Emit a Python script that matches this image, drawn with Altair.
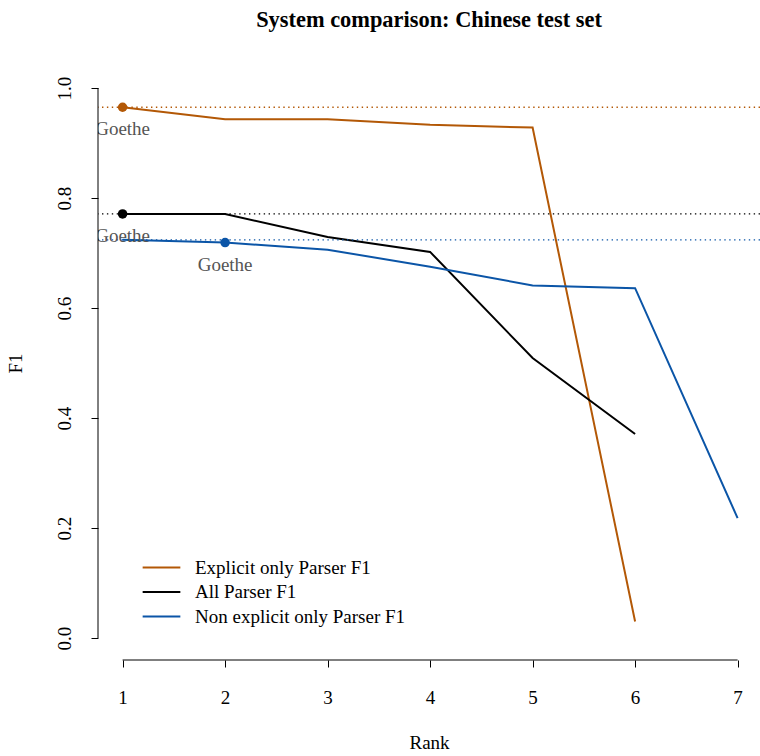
import altair as alt
import pandas as pd

# F1 per rank for each parser variant
ranks_explicit = [1, 2, 3, 4, 5, 6]
f1_explicit = [0.965, 0.943, 0.943, 0.933, 0.928, 0.030]

ranks_all = [1, 2, 3, 4, 5, 6]
f1_all = [0.771, 0.771, 0.729, 0.702, 0.509, 0.371]

ranks_nonexplicit = [1, 2, 3, 4, 5, 6, 7]
f1_nonexplicit = [0.724, 0.719, 0.706, 0.675, 0.641, 0.636, 0.218]

series_names = ["Explicit only Parser F1", "All Parser F1", "Non explicit only Parser F1"]
series_colors = ["#B35806", "#000000", "#0B55A7"]

# Goethe system: rank and F1 in each series
goethe_rank = [1, 1, 2]
goethe_f1 = [0.965, 0.771, 0.719]
goethe_label = ["Goethe", "Goethe", "Goethe"]

# best score per series (dotted reference lines)
best_f1 = [max(f1_explicit), max(f1_all), max(f1_nonexplicit)]

x_ticks = [1, 2, 3, 4, 5, 6, 7]
y_ticks = [0.0, 0.2, 0.4, 0.6, 0.8, 1.0]

rows = []
for name, rs, vs in zip(series_names,
                        [ranks_explicit, ranks_all, ranks_nonexplicit],
                        [f1_explicit, f1_all, f1_nonexplicit]):
    for r, v in zip(rs, vs):
        rows.append({"series": name, "rank": r, "f1": v})
lines_df = pd.DataFrame(rows)

best_df = pd.DataFrame({"series": series_names, "f1": best_f1})
goethe_df = pd.DataFrame({"series": series_names, "rank": goethe_rank,
                          "f1": goethe_f1, "label": goethe_label})
xaxis_df = pd.DataFrame({"rank": [min(x_ticks)], "rank2": [max(x_ticks)]})
yaxis_df = pd.DataFrame({"f1": [min(y_ticks)], "f12": [max(y_ticks)]})

W, H = 662, 594
FONT = "Liberation Serif"
FS = 19

x_scale = alt.Scale(domain=[0.76, 0.76 + W / 102.5], nice=False, zero=False)
y_scale = alt.Scale(domain=[-0.04, 1.04], nice=False, zero=False)
color_scale = alt.Scale(domain=series_names, range=series_colors)

x_axis = alt.Axis(values=x_ticks, domain=False, grid=False, tickSize=7,
                  tickColor="#000", tickWidth=1, labelPadding=21,
                  labelFont=FONT, labelFontSize=FS, labelColor="#000",
                  title="Rank", titleFont=FONT, titleFontSize=FS,
                  titleFontWeight="normal", titleColor="#000", titlePadding=26)
y_axis = alt.Axis(values=y_ticks, format=".1f", domain=False, grid=False,
                  tickSize=7, tickColor="#000", tickWidth=1, labelPadding=17,
                  labelAngle=270, labelAlign="center", labelBaseline="bottom",
                  labelFont=FONT, labelFontSize=FS, labelColor="#000",
                  title="F1", titleFont=FONT, titleFontSize=FS,
                  titleFontWeight="normal", titleColor="#000", titlePadding=30)

legend = alt.Legend(
    title=None, orient="none", legendX=54, legendY=492,
    symbolType="M-2.9,0H2.9", symbolSize=169, symbolStrokeWidth=2,
    symbolDash=[1, 0], symbolFillColor="transparent",
    labelFont=FONT, labelFontSize=FS, labelColor="#000", labelLimit=400,
    labelOffset=24, rowPadding=4.5,
)

base_x = alt.X("rank:Q", scale=x_scale, axis=x_axis)
base_y = alt.Y("f1:Q", scale=y_scale, axis=y_axis)
color = alt.Color("series:N", scale=color_scale, legend=legend)

lines = alt.Chart(lines_df).mark_line(strokeWidth=2, clip=True).encode(
    x=base_x, y=base_y, color=color, order="rank:Q",
)

ref_lines = alt.Chart(best_df).mark_rule(strokeDash=[1.4, 3.5], strokeWidth=1.3).encode(
    y=base_y, color=color,
)

points = alt.Chart(goethe_df).mark_point(filled=True, size=90, opacity=1).encode(
    x=base_x, y=base_y, color=color,
)

labels = alt.Chart(goethe_df).mark_text(
    dy=22, font=FONT, fontSize=FS, color="#555555", clip=True, baseline="middle"
).encode(x=base_x, y=base_y, text="label:N")

# axis lines spanning first to last tick only
x_domain = alt.Chart(xaxis_df).mark_rule(color="#000", strokeWidth=1).encode(
    x=base_x, x2="rank2:Q", y=alt.value(H),
)
y_domain = alt.Chart(yaxis_df).mark_rule(color="#000", strokeWidth=1).encode(
    y=base_y, y2="f12:Q", x=alt.value(0),
)

chart = alt.layer(lines, ref_lines, points, labels, x_domain, y_domain).properties(
    width=W, height=H, background="white",
    title=alt.TitleParams(
        "System comparison: Chinese test set", font=FONT, fontSize=22.4,
        fontWeight="bold", color="#000", anchor="middle", offset=35,
    ),
    autosize=alt.AutoSizeParams(type="none"),
    padding={"left": 98, "top": 66, "right": 0, "bottom": 96},
).configure_view(stroke=None, strokeWidth=0)

chart.save("out.html", embed_options={"renderer": "svg", "actions": False})
